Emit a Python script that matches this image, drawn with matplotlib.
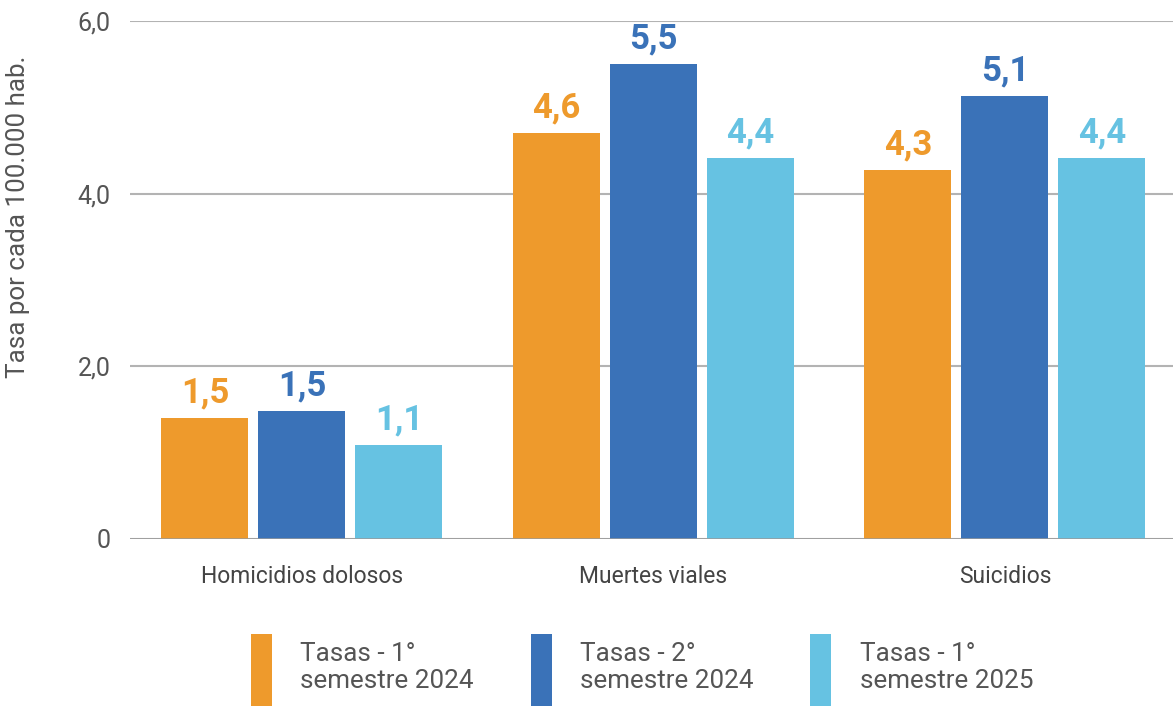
import matplotlib
matplotlib.use("Agg")
import matplotlib.pyplot as plt
import numpy as np

categories = ["Homicidios dolosos", "Muertes viales", "Suicidios"]
series_names = ["Tasas - 1°\nsemestre 2024", "Tasas - 2°\nsemestre 2024", "Tasas - 1°\nsemestre 2025"]
s1_values = [1.40, 4.70, 4.27]
s2_values = [1.48, 5.50, 5.13]
s3_values = [1.09, 4.41, 4.41]
s1_labels = ["1,5", "4,6", "4,3"]
s2_labels = ["1,5", "5,5", "5,1"]
s3_labels = ["1,1", "4,4", "4,4"]
yticks = [0, 2, 4, 6]
ytick_labels = ["0", "2,0", "4,0", "6,0"]
colors = ["#EE9A2C", "#3A72B8", "#66C2E2"]

plt.rcParams['font.family'] = ['Roboto', 'DejaVu Sans']

fig = plt.figure(figsize=(11.73, 7.06), dpi=100)
ax = fig.add_axes([130/1173, 1 - 539/706, 1 - 130/1173, (539 - 21)/706])

x = np.arange(len(categories))
width = 0.2475
step = 0.276
series = [s1_values, s2_values, s3_values]
labels = [s1_labels, s2_labels, s3_labels]
handles = []
for i, (vals, labs) in enumerate(zip(series, labels)):
    bars = ax.bar(x + (i - 1) * step, vals, width, color=colors[i], label=series_names[i], zorder=3)
    handles.append(bars)
    for b, lab in zip(bars, labs):
        ax.text(b.get_x() + b.get_width()/2, b.get_height() + 0.1, lab, ha="center", va="bottom",
                fontsize=25, fontweight="bold", color=colors[i])

ax.set_xlim(-0.489, 2.478)
ax.set_ylim(0, 6.0)
ax.set_yticks(yticks)
ax.set_yticklabels(ytick_labels)
ax.set_xticks(x)
ax.set_xticklabels(categories)
ax.tick_params(axis="y", length=0, pad=14, labelsize=18, labelcolor="#555555")
ax.tick_params(axis="x", length=0, pad=19, labelsize=16.5, labelcolor="#444444")
for s in ax.spines.values():
    s.set_visible(False)
ax.grid(axis="y", color="#b3b3b3", linewidth=1.5, zorder=0)
ax.axhline(0, color="#9a9a9a", linewidth=1.8, zorder=4)
fig.text(18/1173, 1 - 217/706, "Tasa por cada 100.000 hab.", rotation=90, ha="center", va="center",
         fontsize=18.7, color="#555555")

leg = fig.legend(handles=handles, labels=series_names, loc="lower left",
                 bbox_to_anchor=(251/1173, 0.0), ncol=3, frameon=False,
                 fontsize=18.7, handlelength=0.81, handleheight=3.9, handletextpad=1.08,
                 columnspacing=2.2, labelcolor="#555555", borderaxespad=0.0, borderpad=0.0)

fig.savefig("out.png", dpi=100)
